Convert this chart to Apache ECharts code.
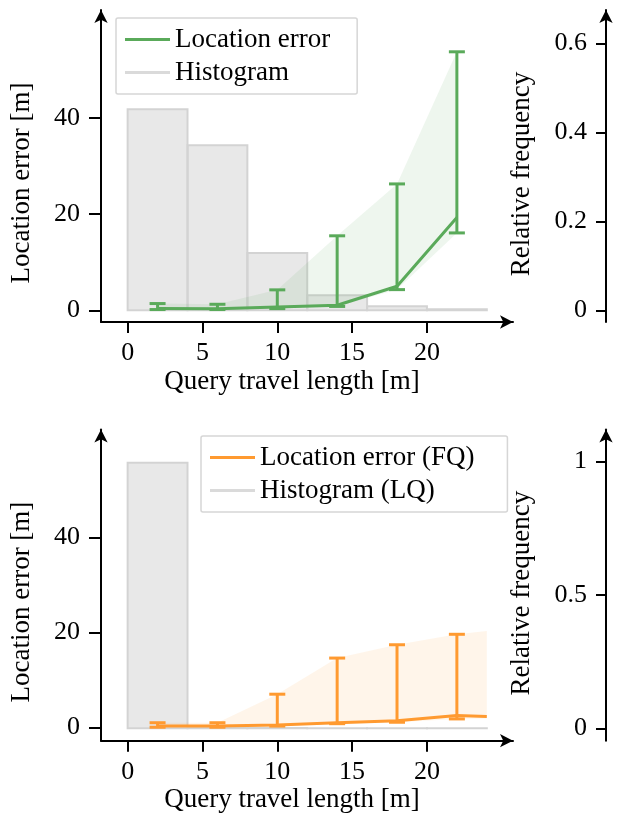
<!DOCTYPE html>
<html><head><meta charset="utf-8">
<script src="https://cdn.jsdelivr.net/npm/echarts@6/dist/echarts.min.js"></script>
<style>html,body{margin:0;padding:0;background:#fff}#c{width:619px;height:815px}</style>
</head><body><div id="c"></div>
<script>
// ---- data ----
const binEdges = [0, 4, 8, 12, 16, 20, 24];
const histTop = [0.452, 0.371, 0.129, 0.034, 0.009, 0.0023];        // relative frequency (top)
const histBottom = [0.996, 0.003, 0.001, 0.0005, 0.0003, 0.0002];   // relative frequency (LQ)
const errX = [2, 6, 10, 14, 18, 22];
const greenMedian = [0.35, 0.3, 0.7, 1.05, 5.0, 19.3];
const greenLower = [0.15, 0.15, 0.35, 0.8, 4.3, 16.1];
const greenUpper = [1.4, 1.25, 4.25, 15.5, 26.3, 53.8];
const orangeX = [2, 6, 10, 14, 18, 22, 24];
const orangeMedian = [0.3, 0.3, 0.5, 1.0, 1.4, 2.5, 2.3];
const orangeLower = [0.05, 0.05, 0.3, 0.8, 1.1, 1.8, 1.9];
const orangeUpper = [1.0, 1.0, 7.0, 14.6, 17.4, 19.6, 20.3];
const xTicks = [0, 5, 10, 15, 20];
const yTicksLeft = [0, 20, 40];
const yTicksRightTop = [0, 0.2, 0.4, 0.6];
const yTicksRightBottom = [0, 0.5, 1];

const FONT = '"Liberation Serif", "Times New Roman", serif';
const GREEN = '#5aaa5a', ORANGE = '#ff9a30', HISTLEG = '#dadada';
const TICK_FS = 26, NAME_FS = 27;

const chart = echarts.init(document.getElementById('c'), null, {renderer: 'canvas'});

function axisLineCfg() {
  return {show: true, onZero: false, symbol: ['none', 'arrow'], symbolSize: [10, 13],
          lineStyle: {color: '#000', width: 2}};
}
function xAxisCfg(gi) {
  return {
    gridIndex: gi, type: 'value', min: -1.78, max: 25.75,
    axisLine: axisLineCfg(),
    axisTick: {show: true, customValues: xTicks, length: 11, lineStyle: {color: '#000', width: 2}},
    axisLabel: {customValues: xTicks, margin: 18, fontSize: TICK_FS, fontFamily: FONT, color: '#000'},
    splitLine: {show: false},
    name: 'Query travel length [m]', nameLocation: 'middle', nameGap: 46,
    nameTextStyle: {fontSize: NAME_FS, fontFamily: FONT, color: '#000', padding: [0, 30, 0, 0]}
  };
}
function yLeftCfg(gi, min, max) {
  return {
    gridIndex: gi, type: 'value', position: 'left', min: min, max: max,
    axisLine: axisLineCfg(),
    axisTick: {show: true, customValues: yTicksLeft, length: 12, lineStyle: {color: '#000', width: 2}},
    axisLabel: {customValues: yTicksLeft, margin: 21, fontSize: TICK_FS, fontFamily: FONT, color: '#000'},
    splitLine: {show: false},
    name: 'Location error [m]', nameLocation: 'middle', nameGap: 66, nameRotate: 90,
    nameTextStyle: {fontSize: NAME_FS, fontFamily: FONT, color: '#000', padding: [0, 34, 0, 0]}
  };
}
function yRightCfg(gi, min, max, ticks) {
  return {
    gridIndex: gi, type: 'value', position: 'right', offset: 93, min: min, max: max,
    axisLine: axisLineCfg(),
    axisTick: {show: true, inside: true, customValues: ticks, length: 10, lineStyle: {color: '#000', width: 2}},
    axisLabel: {inside: true, customValues: ticks, margin: 19, fontSize: TICK_FS, fontFamily: FONT, color: '#000'},
    splitLine: {show: false},
    name: 'Relative frequency', nameLocation: 'middle', nameGap: -98, nameRotate: 90,
    nameTextStyle: {fontSize: NAME_FS, fontFamily: FONT, color: '#000', padding: [0, 16, 0, 0]}
  };
}

function histSeries(name, heights, xi, yi) {
  const rows = heights.map((h, i) => [binEdges[i], binEdges[i + 1], h]);
  return {
    type: 'custom', name: name, xAxisIndex: xi, yAxisIndex: yi, z: 1, silent: true,
    data: rows, encode: {x: [0, 1], y: 2},
    renderItem: function (params, api) {
      const p0 = api.coord([api.value(0), 0]);
      const p1 = api.coord([api.value(1), api.value(2)]);
      return {type: 'rect',
        shape: {x: p0[0], y: p1[1], width: p1[0] - p0[0], height: p0[1] - p1[1]},
        style: {fill: 'rgba(200,200,200,0.42)', stroke: '#d3d3d3', lineWidth: 2}};
    }
  };
}
function bandSeries(name, xs, lo, hi, fill, xi, yi) {
  return {
    type: 'custom', name: name, xAxisIndex: xi, yAxisIndex: yi, z: 2, silent: true,
    data: xs.map((x, i) => [x, lo[i], hi[i]]), encode: {x: 0, y: [1, 2]},
    renderItem: function (params, api) {
      if (params.dataIndex !== 0) return null;
      const pts = [];
      for (let i = 0; i < xs.length; i++) pts.push(api.coord([xs[i], hi[i]]));
      for (let i = xs.length - 1; i >= 0; i--) pts.push(api.coord([xs[i], lo[i]]));
      return {type: 'polygon', shape: {points: pts}, style: {fill: fill}};
    }
  };
}
function errSeries(name, xs, lo, hi, color, xi, yi) {
  return {
    type: 'custom', name: name, xAxisIndex: xi, yAxisIndex: yi, z: 4, silent: true,
    data: xs.map((x, i) => [x, lo[i], hi[i]]), encode: {x: 0, y: [1, 2]},
    renderItem: function (params, api) {
      const a = api.coord([api.value(0), api.value(1)]);
      const b = api.coord([api.value(0), api.value(2)]);
      const w = 8;
      const st = {stroke: color, lineWidth: 3};
      return {type: 'group', children: [
        {type: 'line', shape: {x1: a[0], y1: a[1], x2: b[0], y2: b[1]}, style: st},
        {type: 'line', shape: {x1: a[0] - w, y1: a[1], x2: a[0] + w, y2: a[1]}, style: st},
        {type: 'line', shape: {x1: b[0] - w, y1: b[1], x2: b[0] + w, y2: b[1]}, style: st}
      ]};
    }
  };
}
function lineSeries(name, xs, ys, color, xi, yi) {
  return {
    type: 'line', name: name, xAxisIndex: xi, yAxisIndex: yi, z: 3, silent: true,
    data: xs.map((x, i) => [x, ys[i]]), showSymbol: false, symbol: 'none',
    lineStyle: {color: color, width: 3}, itemStyle: {color: color}
  };
}
function legendCfg(left, top, names, colors, padRight) {
  return {
    orient: 'vertical', left: left, top: top, itemWidth: 45, itemHeight: 3, itemGap: 6,
    padding: [8, padRight, 8, 9], borderColor: '#d6d6d6', borderWidth: 1.5, borderRadius: 2,
    backgroundColor: 'rgba(255,255,255,0.8)', selectedMode: false,
    textStyle: {fontSize: NAME_FS, fontFamily: FONT, color: '#000', lineHeight: 27},
    data: names.map((n, i) => ({name: n, icon: 'rect', itemStyle: {color: colors[i]}}))
  };
}

const option = {
  animation: false,
  backgroundColor: '#fff',
  grid: [
    {left: 100, top: 10, width: 413, height: 312},
    {left: 100, top: 429.5, width: 413, height: 311.2}
  ],
  xAxis: [xAxisCfg(0), xAxisCfg(1)],
  yAxis: [
    yLeftCfg(0, -2.44, 62.5),
    yRightCfg(0, -0.0263, 0.675, yTicksRightTop),
    yLeftCfg(1, -2.78, 62.67),
    yRightCfg(1, -0.0465, 1.1204, yTicksRightBottom)
  ],
  legend: [
    legendCfg(116, 18, ['Location error', 'Histogram'], [GREEN, HISTLEG], 27),
    legendCfg(201, 436, ['Location error (FQ)', 'Histogram (LQ)'], [ORANGE, HISTLEG], 33)
  ],
  series: [
    histSeries('Histogram', histTop, 0, 1),
    bandSeries('Location error', errX, greenLower, greenUpper, 'rgba(90,170,90,0.1)', 0, 0),
    lineSeries('Location error', errX, greenMedian, GREEN, 0, 0),
    errSeries('Location error', errX, greenLower, greenUpper, GREEN, 0, 0),
    histSeries('Histogram (LQ)', histBottom, 1, 3),
    bandSeries('Location error (FQ)', orangeX, orangeLower, orangeUpper, 'rgba(255,154,48,0.1)', 1, 2),
    lineSeries('Location error (FQ)', orangeX, orangeMedian, ORANGE, 1, 2),
    errSeries('Location error (FQ)', errX, orangeLower.slice(0, errX.length), orangeUpper.slice(0, errX.length), ORANGE, 1, 2)
  ]
};
chart.setOption(option);
</script>
</body></html>
